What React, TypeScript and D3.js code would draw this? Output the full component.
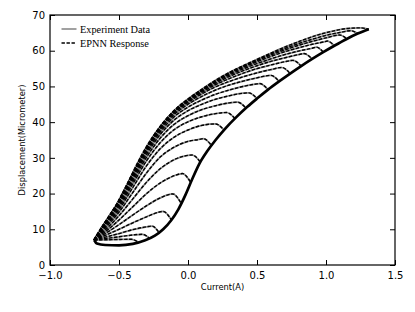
import { useEffect, useRef } from "react";
import * as d3 from "d3";

// axis ticks
const xTicks = [-1.0, -0.5, 0.0, 0.5, 1.0, 1.5];
const yTicks = [0, 10, 20, 30, 40, 50, 60, 70];

// common ascending branch (lower right edge)
const ascX = [-0.68, -0.66, -0.6, -0.5, -0.4, -0.31, -0.24, -0.18, -0.12, -0.07, -0.02, 0.03, 0.08, 0.14, 0.2, 0.27, 0.35, 0.43, 0.5, 0.58, 0.66, 0.74, 0.82, 0.9, 0.98, 1.06, 1.15, 1.23, 1.31];
const ascY = [7.0, 6.0, 5.6, 5.5, 5.9, 6.9, 8.2, 10.0, 12.6, 15.6, 19.5, 24.0, 28.2, 31.9, 35.0, 38.2, 41.4, 44.3, 46.6, 49.1, 51.4, 53.6, 55.7, 57.7, 59.6, 61.4, 63.3, 64.8, 66.0];

// major descending branch (upper left edge)
const envX = [-0.68, -0.66, -0.61, -0.55, -0.49, -0.43, -0.38, -0.33, -0.24, -0.12, 0.0, 0.1, 0.22, 0.33, 0.45, 0.57, 0.7, 0.82, 0.95, 1.05, 1.15, 1.25, 1.31];
const envY = [7.2, 8.5, 11.5, 14.5, 19.0, 23.5, 27.5, 31.2, 36.8, 42.5, 46.5, 49.2, 52.2, 54.5, 56.7, 58.8, 61.0, 62.8, 64.5, 65.5, 66.2, 66.4, 66.0];

// minor loops: reversal point, hook peak, and descending values on a shared grid
const startX = -0.68;
const startY = 7.0;
const revX = [-0.36, -0.28, -0.21, -0.12, -0.05, 0.02, 0.09, 0.17, 0.26, 0.34, 0.42, 0.5, 0.58, 0.66, 0.74, 0.82, 0.9, 0.98, 1.06, 1.15, 1.23];
const revY = [6.4, 7.5, 9.1, 12.6, 17.3, 23.1, 28.8, 33.5, 37.8, 41.0, 43.9, 46.6, 49.1, 51.4, 53.6, 55.7, 57.7, 59.6, 61.4, 63.3, 64.8];
const peakX = [-0.41, -0.33, -0.26, -0.18, -0.11, -0.04, 0.03, 0.11, 0.2, 0.28, 0.36, 0.44, 0.52, 0.6, 0.68, 0.76, 0.84, 0.93, 1.01, 1.1, 1.18];
const peakY = [7.2, 8.6, 10.9, 15.0, 19.9, 25.6, 30.8, 35.4, 39.5, 42.7, 45.6, 48.2, 50.8, 53.1, 55.3, 57.3, 59.2, 61.0, 62.7, 64.4, 65.6];
const gridX = [-0.6, -0.5, -0.4, -0.3, -0.2, -0.1, 0.0, 0.1, 0.2, 0.3, 0.4, 0.5, 0.6, 0.7, 0.8, 0.9, 1.0, 1.1];
const loopRows = [
  [7.05, 7.15],
  [7.4, 7.9, 8.4],
  [7.8, 8.8, 9.9, 10.7],
  [8.3, 10.0, 11.8, 13.5, 14.9],
  [8.8, 11.3, 14.0, 16.6, 18.8],
  [9.3, 12.6, 16.3, 20.0, 23.0, 25.0],
  [9.8, 13.8, 18.5, 23.2, 27.0, 29.5, 30.7],
  [10.3, 14.8, 20.3, 25.8, 30.3, 33.0, 34.6, 35.3],
  [10.7, 15.5, 21.7, 27.8, 32.6, 35.8, 37.8, 39.1],
  [11.0, 16.1, 22.7, 29.2, 34.3, 37.9, 40.1, 41.5, 42.4],
  [11.3, 16.6, 23.4, 30.2, 35.6, 39.4, 41.8, 43.5, 44.6, 45.4],
  [11.5, 17.0, 24.0, 31.0, 36.6, 40.6, 43.2, 45.0, 46.4, 47.4, 48.1],
  [11.6, 17.3, 24.4, 31.6, 37.3, 41.5, 44.2, 46.2, 47.8, 49.0, 50.0, 50.7],
  [11.7, 17.6, 24.8, 32.0, 37.8, 42.1, 45.0, 47.2, 49.0, 50.4, 51.5, 52.4],
  [11.8, 17.8, 25.1, 32.3, 38.2, 42.5, 45.5, 47.9, 49.9, 51.4, 52.7, 53.8, 54.7],
  [11.8, 17.9, 25.3, 32.5, 38.4, 42.7, 45.8, 48.3, 50.5, 52.2, 53.7, 55.0, 56.0, 56.9],
  [11.9, 17.9, 25.4, 32.6, 38.5, 42.8, 46.0, 48.6, 50.9, 52.8, 54.4, 55.8, 57.0, 58.0, 58.9],
  [11.9, 18.0, 25.5, 32.7, 38.6, 42.9, 46.1, 48.8, 51.2, 53.2, 54.9, 56.4, 57.7, 58.9, 59.9, 60.7],
  [11.9, 18.0, 25.5, 32.8, 38.6, 43.0, 46.2, 48.9, 51.4, 53.5, 55.3, 56.9, 58.4, 59.7, 60.8, 61.8, 62.6],
  [12.0, 18.1, 25.6, 32.9, 38.7, 43.1, 46.3, 49.0, 51.5, 53.7, 55.5, 57.2, 58.8, 60.2, 61.5, 62.6, 63.6],
  [12.0, 18.1, 25.7, 33.0, 38.8, 43.2, 46.4, 49.1, 51.6, 53.8, 55.7, 57.4, 59.1, 60.6, 62.0, 63.2, 64.3, 65.1],
];

const legendLabels = ["Experiment Data", "EPNN Response"];

const App = () => {
  const svgRef = useRef<SVGSVGElement>(null);

  const width = 415;
  const height = 312;
  const left = 50;
  const right = 395;
  const top = 15;
  const bottom = 265;

  useEffect(() => {
    const svg = d3.select(svgRef.current);
    svg.selectAll("*").remove();

    const xScale = d3.scaleLinear().domain([-1, 1.5]).range([left, right]);
    const yScale = d3.scaleLinear().domain([0, 70]).range([bottom, top]);

    const line = d3
      .line<[number, number]>()
      .x((d) => xScale(d[0]))
      .y((d) => yScale(d[1]))
      .curve(d3.curveMonotoneX);

    // descending curves
    const curves: [number, number][][] = loopRows.map((row, i) => [
      [startX, startY] as [number, number],
      ...row.map((v, j) => [gridX[j], v] as [number, number]),
      [peakX[i], peakY[i]] as [number, number],
      [revX[i], revY[i]] as [number, number],
    ]);
    curves.push(envX.map((v, i) => [v, envY[i]] as [number, number]));

    const asc: [number, number][] = ascX.map((v, i) => [v, ascY[i]]);

    const plot = svg.append("g");

    // experiment data (solid grey)
    plot
      .selectAll("path.exp")
      .data(curves)
      .enter()
      .append("path")
      .attr("class", "exp")
      .attr("d", (d) => line(d))
      .attr("fill", "none")
      .attr("stroke", "#8a8a8a")
      .attr("stroke-width", 1.7);

    // model response (dashed black)
    plot
      .selectAll("path.nn")
      .data(curves)
      .enter()
      .append("path")
      .attr("class", "nn")
      .attr("d", (d) => line(d))
      .attr("fill", "none")
      .attr("stroke", "#000")
      .attr("stroke-width", 1.4)
      .attr("stroke-dasharray", "3.4,1.6");

    // shared ascending branch
    plot
      .append("path")
      .attr("d", line(asc))
      .attr("fill", "none")
      .attr("stroke", "#000")
      .attr("stroke-width", 2.7);

    // axes, ticks pointing inward on all sides
    const fmtX = d3.format(".1f");
    const xAxis = d3.axisBottom(xScale).tickValues(xTicks).tickFormat((d) => fmtX(d as number)).tickSizeInner(-5).tickSizeOuter(0).tickPadding(7);
    const yAxis = d3.axisLeft(yScale).tickValues(yTicks).tickSizeInner(-5).tickSizeOuter(0).tickPadding(5);
    const xTop = d3.axisTop(xScale).tickValues(xTicks).tickFormat(() => "").tickSizeInner(-5).tickSizeOuter(0);
    const yRight = d3.axisRight(yScale).tickValues(yTicks).tickFormat(() => "").tickSizeInner(-5).tickSizeOuter(0);

    const axes = [
      svg.append("g").attr("transform", `translate(0, ${bottom})`).call(xAxis),
      svg.append("g").attr("transform", `translate(${left}, 0)`).call(yAxis),
      svg.append("g").attr("transform", `translate(0, ${top})`).call(xTop),
      svg.append("g").attr("transform", `translate(${right}, 0)`).call(yRight),
    ];
    axes.forEach((g) => {
      g.select(".domain").remove();
      g.selectAll("line").attr("stroke", "#000").attr("stroke-width", 1);
      g.selectAll("text")
        .attr("fill", "#000")
        .style("font-family", "DejaVu Sans")
        .style("font-size", "10px");
    });

    svg
      .append("rect")
      .attr("x", left)
      .attr("y", top)
      .attr("width", right - left)
      .attr("height", bottom - top)
      .attr("fill", "none")
      .attr("stroke", "#000")
      .attr("stroke-width", 1.2);

    // axis labels
    svg
      .append("text")
      .attr("x", (left + right) / 2)
      .attr("y", 289.5)
      .attr("text-anchor", "middle")
      .style("font-family", "DejaVu Sans")
      .style("font-size", "8.3px")
      .text("Current(A)");
    svg
      .append("text")
      .attr("transform", `translate(24.7, ${(top + bottom) / 2}) rotate(-90)`)
      .attr("text-anchor", "middle")
      .style("font-family", "DejaVu Sans")
      .style("font-size", "8.3px")
      .text("Displacement(Micrometer)");

    // legend
    const legend = svg.append("g");
    legend
      .append("line")
      .attr("x1", 61.5)
      .attr("x2", 76.5)
      .attr("y1", 29)
      .attr("y2", 29)
      .attr("stroke", "#8a8a8a")
      .attr("stroke-width", 1.6);
    legend
      .append("line")
      .attr("x1", 61.5)
      .attr("x2", 76.5)
      .attr("y1", 43)
      .attr("y2", 43)
      .attr("stroke", "#000")
      .attr("stroke-width", 1.4)
      .attr("stroke-dasharray", "3.4,1.6");
    legend
      .selectAll("text")
      .data(legendLabels)
      .enter()
      .append("text")
      .attr("x", 80)
      .attr("y", (d, i) => 32.5 + i * 14)
      .style("font-family", "Liberation Serif")
      .style("font-size", "10.3px")
      .text((d) => d);
  }, []);

  return (
    <svg
      ref={svgRef}
      width={width}
      height={height}
      style={{ position: "absolute", left: 0, top: 0, background: "#fff" }}
    />
  );
};

export default App;
